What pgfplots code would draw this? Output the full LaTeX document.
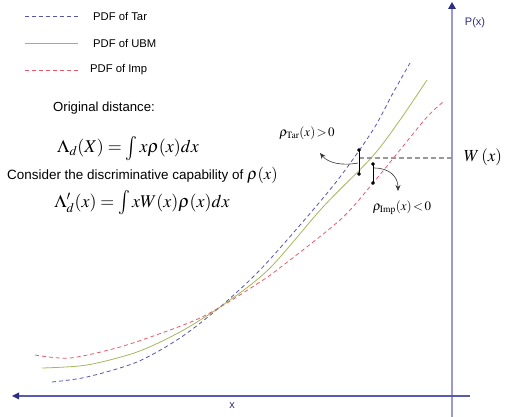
\documentclass[border=0pt]{standalone}
\usepackage{mathptmx}
\usepackage[no-math]{fontspec}
\usepackage{graphicx}
\usepackage{pgfplots}
\pgfplotsset{compat=1.18}
\usetikzlibrary{arrows.meta}
\newfontfamily\arial{Liberation Sans}
\newcommand\bint{\mathop{\raisebox{-0.25ex}{\smash{\scalebox{1.1}[1.35]{$\int$}}}}\nolimits}
\definecolor{tarc}{HTML}{5555B0}
\definecolor{ubmc}{HTML}{A8B55A}
\definecolor{impc}{HTML}{E55A6A}
\definecolor{vaxis}{HTML}{9A9AD2}
\definecolor{haxis}{HTML}{5A5AB0}
\definecolor{lbl}{HTML}{2E2E80}
\begin{document}
\begin{tikzpicture}
\begin{axis}[name=main,
  width=516bp, height=417bp, scale only axis,
  xmin=0, xmax=516, ymin=0, ymax=417,
  hide axis, clip=false]
% axes
\draw[vaxis, line width=1.8pt] (axis cs:452,0) -- (axis cs:452,409);
\draw[fill=lbl, draw=none] (axis cs:448,408) -- (axis cs:456,408) -- (axis cs:452,415) -- cycle;
\draw[haxis, line width=1.1pt] (axis cs:470,21) -- (axis cs:18,21);
\draw[fill=lbl, draw=none] (axis cs:19,17.5) -- (axis cs:19,24.5) -- (axis cs:12,21) -- cycle;
% curves
\addplot[tarc, line width=0.8pt, smooth, dash pattern=on 4pt off 3pt] coordinates {
(52,35) (87,40) (137,55) (180,79) (220,110) (260,147) (307,200) (340,240) (373,287) (393,324) (410,354)};
\addplot[ubmc, line width=0.8pt, smooth] coordinates {
(42,49) (87,52) (137,65) (180,85) (220,110) (268,147) (323,210) (372,260) (400,297) (427,337)};
\addplot[impc, line width=0.8pt, smooth, dash pattern=on 4pt off 3pt] coordinates {
(35,62) (70,59) (120,70) (170,87) (200,99) (227,114) (260,135) (277,147) (340,197) (373,234) (400,267) (427,300) (443,315)};
% legend samples
\addplot[tarc, line width=0.8pt, dash pattern=on 4pt off 3pt] coordinates {(25,401) (78,401)};
\addplot[ubmc, line width=0.8pt] coordinates {(25,374) (78,374)};
\addplot[impc, line width=0.8pt, dash pattern=on 4pt off 3pt] coordinates {(25,347) (78,347)};
\node[anchor=west, inner sep=0pt] at (axis cs:93,401) {\arial\fontsize{11.3}{12}\selectfont PDF of Tar};
\node[anchor=west, inner sep=0pt] at (axis cs:93,374) {\arial\fontsize{11.3}{12}\selectfont PDF of UBM};
\node[anchor=west, inner sep=0pt] at (axis cs:90,347) {\arial\fontsize{11.3}{12}\selectfont PDF of Imp};
% W(x) line
\addplot[gray!80, line width=1.1pt, dash pattern=on 5pt off 3pt] coordinates {(359,259) (452,259)};
% segments
\addplot[black, line width=0.8pt] coordinates {(359,267) (359,243)};
\addplot[black, line width=0.8pt] coordinates {(373,253) (373,234)};
\addplot[black, only marks, mark=*, mark size=1.6pt] coordinates {(359,267) (359,243) (373,253) (373,234)};
% arrows
\draw[black!80, line width=0.6pt, -{Stealth[length=6pt,width=5pt]}] (axis cs:358,254) .. controls (axis cs:342,251) and (axis cs:328,254) .. (axis cs:320,264);
\draw[black!80, line width=0.6pt, -{Stealth[length=6pt,width=5pt]}] (axis cs:374,249) .. controls (axis cs:390,249) and (axis cs:398,240) .. (axis cs:398,226);
% texts
\node[inner sep=0pt] at (axis cs:104,309) {\arial\fontsize{13.2}{15}\selectfont Original distance:};
\node[inner sep=0pt] at (axis cs:128,269) {\fontsize{18}{20}\selectfont $\Lambda_d(X)=\bint x\rho(x)dx$};
\node[anchor=base west, inner sep=0pt] at (axis cs:7,237) {\arial\fontsize{13.5}{15}\selectfont Consider the discriminative capability of \fontsize{16.5}{19}\selectfont$\rho(x)$};
\node[inner sep=0pt] at (axis cs:142,214) {\fontsize{18}{20}\selectfont $\Lambda'_d(x)=\bint xW(x)\rho(x)dx$};
\node[inner sep=0pt] at (axis cs:483,260) {\fontsize{17}{19}\selectfont $W\,(x)$};
\node[inner sep=0pt] at (axis cs:307,284) {\fontsize{13}{15}\selectfont $\rho_{\mathrm{Tar}}(x)\!>\!0$};
\node[inner sep=0pt] at (axis cs:402,209) {\fontsize{13}{15}\selectfont $\rho_{\mathrm{Imp}}(x)\!<\!0$};
\node[inner sep=0pt, text=lbl] at (axis cs:232,11) {\arial\fontsize{11}{12}\selectfont x};
\node[inner sep=0pt, text=lbl] at (axis cs:475,394) {\arial\fontsize{11}{12}\selectfont P(x)};
\end{axis}
\pgfresetboundingbox
\path (main.south west) rectangle (main.north east);
\end{tikzpicture}
\end{document}
